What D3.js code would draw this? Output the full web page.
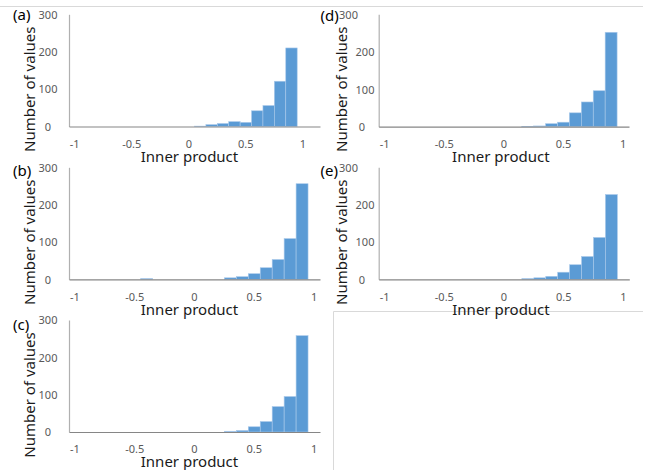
<!DOCTYPE html>
<html>
<head>
<meta charset="utf-8">
<script src="https://cdn.jsdelivr.net/npm/d3@7"></script>
<style>
  html, body { margin: 0; padding: 0; background: #fff; }
  svg { display: block; }
  text { font-family: "Noto Sans", "DejaVu Sans", sans-serif; }
</style>
</head>
<body>
<svg id="chart" width="647" height="470"></svg>
<script>
// ---- data ----
const categories21 = ["-1","-0.9","-0.8","-0.7","-0.6","-0.5","-0.4","-0.3","-0.2","-0.1","0","0.1","0.2","0.3","0.4","0.5","0.6","0.7","0.8","0.9","1"];
const categories22 = ["-1","-0.9","-0.8","-0.7","-0.6","-0.5","-0.4","-0.3","-0.2","-0.1","0","0.1","0.2","0.3","0.4","0.5","0.6","0.7","0.8","0.9","1","More"];
const shownTickLabels = ["-1","-0.5","0","0.5","1"];
const yTickValues = [0, 100, 200, 300];

const valuesA = [0,0,0,0,0,0,0,0,0,0,0,1,5,8,13,11,42,56,121,210,0,0];
const valuesB = [0,0,0,0,0,0,2,0,0,0,0,0,0,4,7,15,31,53,109,256,0];
const valuesC = [0,0,0,0,0,0,0,0,0,0,0,0,0,2,4,14,28,68,95,258,0];
const valuesD = [0,0,0,0,0,0,0,0,0,0,0,0,1,2,8,12,37,66,96,252,0];
const valuesE = [0,0,0,0,0,0,0,0,0,0,0,0,2,4,8,19,39,61,112,227,0];

const panelLabels = ["(a)","(b)","(c)","(d)","(e)"];
const xTitle = "Inner product";
const yTitle = "Number of values";

// ---- layout ----
const panels = [
  {label: panelLabels[0], cats: categories22, vals: valuesA, x0: 69,    x1: 320,   yt: 14.3,  yb: 126.5, side: "L", ly: 15},
  {label: panelLabels[1], cats: categories21, vals: valuesB, x0: 69,    x1: 320,   yt: 167.3, yb: 279.3, side: "L", ly: 171},
  {label: panelLabels[2], cats: categories21, vals: valuesC, x0: 69,    x1: 320,   yt: 320,   yb: 432,   side: "L", ly: 325},
  {label: panelLabels[3], cats: categories21, vals: valuesD, x0: 378.7, x1: 629,   yt: 14.3,  yb: 126.7, side: "R", ly: 16},
  {label: panelLabels[4], cats: categories21, vals: valuesE, x0: 378.7, x1: 629.3, yt: 167.3, yb: 279.3, side: "R", ly: 171}
];

const svg = d3.select("#chart");

// frame lines
svg.append("line").attr("x1", 0).attr("x2", 643).attr("y1", 6.5).attr("y2", 6.5)
  .attr("stroke", "#d9d9d9").attr("stroke-width", 1);
svg.append("line").attr("x1", 333.5).attr("x2", 333.5).attr("y1", 311.5).attr("y2", 470)
  .attr("stroke", "#d9d9d9").attr("stroke-width", 1);
svg.append("line").attr("x1", 333.5).attr("x2", 643).attr("y1", 311.5).attr("y2", 311.5)
  .attr("stroke", "#d9d9d9").attr("stroke-width", 1);

panels.forEach(p => {
  const g = svg.append("g");
  const x = d3.scaleBand().domain(p.cats).range([p.x0, p.x1]).paddingInner(0).paddingOuter(0);
  const y = d3.scaleLinear().domain([0, 300]).range([p.yb, p.yt]);
  const data = p.cats.map((c, i) => ({c, v: p.vals[i]}));

  // bars
  g.selectAll("rect.bar").data(data.filter(d => d.v > 0)).join("rect")
    .attr("class", "bar")
    .attr("x", d => x(d.c))
    .attr("width", x.bandwidth())
    .attr("y", d => y(d.v))
    .attr("height", d => y(0) - y(d.v))
    .attr("fill", "#5b9bd5")
    .attr("stroke", "#a9c9ea")
    .attr("stroke-width", 0.6);

  // y axis
  const yAxis = d3.axisLeft(y).tickValues(yTickValues).tickSize(0).tickPadding(0).tickFormat(d3.format("d"));
  const ya = g.append("g").attr("transform", `translate(${p.x0},0)`).call(yAxis);
  ya.select(".domain").attr("stroke", "#b0b0b0").attr("stroke-width", 1.2);
  const yLabelCx = p.side === "L" ? 48 : 365;
  ya.selectAll(".tick text")
    .attr("x", d => (p.side === "R" && d === 300 ? 348.5 : (p.side === "R" && d === 0 ? 362 : yLabelCx)) - p.x0)
    .attr("text-anchor", "middle")
    .attr("dy", "0.35em")
    .attr("fill", "#595959")
    .style("font-size", "11px")
    .style("font-family", "'Noto Sans', sans-serif");

  // x axis
  const xAxis = d3.axisBottom(x).tickSize(0).tickPadding(0).tickValues(shownTickLabels);
  const xa = g.append("g").attr("transform", `translate(0,${p.yb})`).call(xAxis);
  xa.select(".domain").attr("stroke", "#868686").attr("stroke-width", 1.2);
  xa.selectAll(".tick text")
    .attr("y", 17.5).attr("dy", "0.35em")
    .attr("fill", "#595959")
    .style("font-size", "11px")
    .style("font-family", "'Noto Sans', sans-serif");

  // titles
  g.append("text")
    .attr("x", (p.x0 + p.x1) / 2 - (p.side === "L" ? 5 : 3))
    .attr("y", p.yb + 30)
    .attr("dy", "0.35em")
    .attr("text-anchor", "middle")
    .attr("fill", "#1a1a1a")
    .style("font-size", "15px")
    .text(xTitle);

  const ytx = p.side === "L" ? 30 : 341.5;
  const yty = p.yt + 75;
  g.append("text")
    .attr("transform", `translate(${ytx},${yty}) rotate(-90)`)
    .attr("dy", "0.35em")
    .attr("text-anchor", "middle")
    .attr("fill", "#1a1a1a")
    .style("font-size", "15px")
    .text(yTitle);

  g.append("text")
    .attr("x", p.side === "L" ? 13 : 320.5)
    .attr("y", p.ly)
    .attr("dy", "0.35em")
    .attr("fill", "#000")
    .style("font-size", "15px")
    .text(p.label);
});
</script>
</body>
</html>
